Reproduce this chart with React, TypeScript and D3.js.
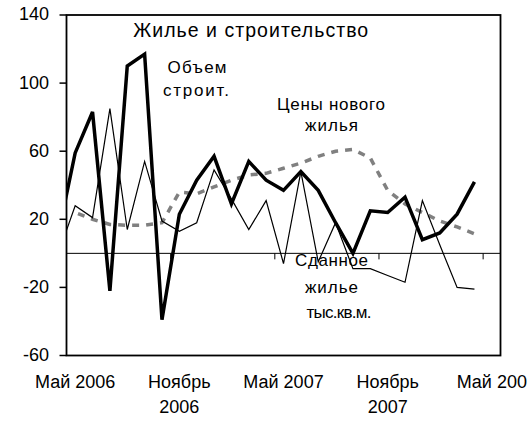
import * as d3 from "d3";
import React from "react";

// months index: -1 = Apr 2006, 0 = May 2006 ... 23 = Apr 2008
const volumeIdx = d3.range(-1, 24);
const constructionVolume = [10, 59, 83, -22, 110, 117, -39, 23, 43, 57, 29, 54, 43, 37, 48, 37, 18, 0, 25, 24, 33, 8, 12, 23, 42];
const completedHousing = [-1, 28, 21, 85, 14, 54, 19, 13, 18, 49, 32, 14, 31, -6, 48, -5, 18, -9, -9, -13, -17, 31, 5, -20, -21];
const priceIdx = d3.range(0, 24);
const newHousingPrices = [24, 20, 17, 16.5, 16.5, 18, 36, 35, 39, 43, 46, 47, 50, 53, 57, 60, 61, 56, 37, 29, 24, 19, 15.5, 11.5];

const yTicks = [-60, -20, 20, 60, 100, 140];
const xLabelIdx = [0, 6, 12, 18, 24];
const xLabels = [["Май 2006", ""], ["Ноябрь", "2006"], ["Май 2007", ""], ["Ноябрь", "2007"], ["Май 200", ""]];
const xTickIdx = [5.5, 11.5, 17.5, 23.5];

const W = 527;
const H = 422;
const font = "'Liberation Sans', Arial, sans-serif";

export default function App() {
  const x = d3.scaleLinear().domain([-0.5, 24.5]).range([66.5, 500.5]);
  const y = d3.scaleLinear().domain([-60, 140]).range([355.5, 15]);
  const [x0, x1] = x.range();
  const [yb, yt] = y.range();

  const line = d3
    .line<[number, number]>()
    .x((d) => x(d[0]))
    .y((d) => y(d[1]));

  const thick = line(volumeIdx.map((i, k) => [i, constructionVolume[k]]));
  const thin = line(volumeIdx.map((i, k) => [i, completedHousing[k]]));
  const dashed = line(priceIdx.map((i, k) => [i, newHousingPrices[k]]));

  // label lines fitted to the widths seen in the original
  const label = (txt: string, cx: number, cy: number, len: number) => (
    <text x={cx} y={cy} textAnchor="middle" fontSize={17} textLength={len} lengthAdjust="spacing">
      {txt}
    </text>
  );

  return (
    <svg width={W} height={H} style={{ position: "absolute", left: 0, top: 0, background: "#fff" }} fontFamily={font}>
      <defs>
        <clipPath id="plot">
          <rect x={x0} y={yt} width={x1 - x0} height={yb - yt} />
        </clipPath>
      </defs>

      <g clipPath="url(#plot)" fill="none">
        <path d={dashed!} stroke="#808080" strokeWidth={3.5} strokeDasharray="7,7" strokeDashoffset={-3} />
        <path d={thin!} stroke="#000" strokeWidth={1.2} />
        <path d={thick!} stroke="#000" strokeWidth={3.5} />
      </g>

      {/* zero line */}
      <line x1={x0} x2={x1} y1={y(0)} y2={y(0)} stroke="#000" strokeWidth={1} />
      {xTickIdx.map((t) => (
        <line key={t} x1={x(t)} x2={x(t)} y1={y(0)} y2={y(0) + 6} stroke="#000" strokeWidth={1} />
      ))}

      <rect x={x0} y={yt} width={x1 - x0} height={yb - yt} fill="none" stroke="#000" strokeWidth={1.8} />

      {yTicks.map((t) => (
        <g key={t}>
          <line x1={x0 - 7} x2={x0} y1={y(t)} y2={y(t)} stroke="#000" strokeWidth={1.5} />
          <text x={49} y={y(t)} dy="0.3em" textAnchor="end" fontSize={18}>
            {t}
          </text>
        </g>
      ))}

      {xLabelIdx.map((i, k) => (
        <text key={i} x={x(i)} textAnchor="middle" fontSize={18}>
          <tspan x={x(i)} y={388}>{xLabels[k][0]}</tspan>
          {xLabels[k][1] && <tspan x={x(i)} y={413}>{xLabels[k][1]}</tspan>}
        </text>
      ))}

      <text x={250.7} y={37} textAnchor="middle" fontSize={19.5} textLength={235} lengthAdjust="spacing">
        Жилье и строительство
      </text>

      {label("Объем", 197, 73, 59)}
      {label("строит.", 196, 96, 66)}
      {label("Цены нового", 331, 110, 108)}
      {label("жилья", 331.5, 131, 53)}
      {label("Сданное", 331.5, 266, 73)}
      {label("жилье", 331.5, 293, 53)}
      {label("тыс.кв.м.", 339, 318, 65)}
    </svg>
  );
}
